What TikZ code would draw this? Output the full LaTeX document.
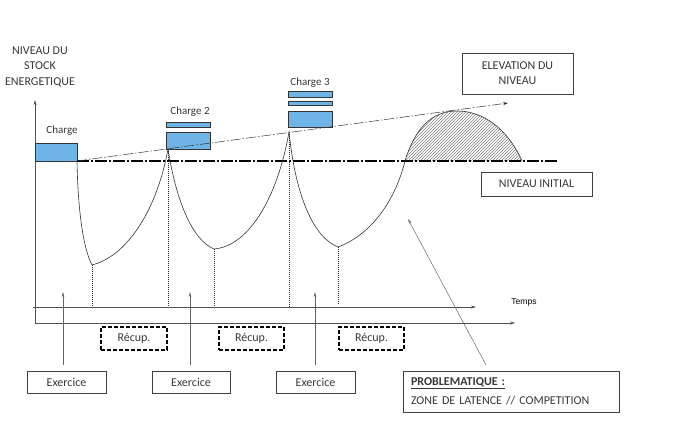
\documentclass[tikz,border=0pt]{standalone}
\usepackage{fontspec}
\setmainfont{Carlito}
\newfontfamily\arialf{Liberation Sans}
\usetikzlibrary{patterns,arrows.meta}
\definecolor{chargeblue}{RGB}{110,180,230}
\definecolor{axisgray}{RGB}{80,80,80}
\definecolor{txt}{RGB}{55,55,55}
\begin{document}
\begin{tikzpicture}[x=1pt,y=-1pt,
  lbl/.style={font=\fontsize{11}{13}\selectfont, inner sep=0pt, text=txt},
  boxed/.style={draw=black!75, line width=0.8pt, font=\fontsize{12}{14}\selectfont, text=txt, inner sep=0pt, align=center},
  recup/.style={draw=black, line width=1.3pt, dash pattern=on 4pt off 2pt, font=\fontsize{12}{14}\selectfont, text=txt, inner sep=0pt, minimum height=23pt},
  axisline/.style={draw=axisgray, line width=0.9pt, -{Stealth[length=5pt,width=3pt]}},
  chargebox/.style={draw=black!80, line width=0.6pt, fill=chargeblue},
  baseline/.style={draw=black, line width=1.6pt, dash pattern=on 12pt off 2pt on 2pt off 2pt},
  riseline/.style={draw=black!80, line width=0.5pt, dash pattern=on 10pt off 2pt on 1.5pt off 2pt, -{Stealth[length=5pt,width=3pt]}},
  curve/.style={draw=black!80, line width=0.6pt},
  dotv/.style={draw=black!85, line width=0.7pt, dash pattern=on 1pt off 1pt},
  pointer/.style={draw=gray!80!black, line width=0.5pt, -{Stealth[length=5pt,width=2.5pt]}}
]
\useasboundingbox (0,0) rectangle (685,446);

% axes
\coordinate (ybot) at (35,323);
\coordinate (ytop) at (35,100);
\coordinate (xend) at (515,323);
\coordinate (tstart) at (33,307);
\coordinate (tend) at (476,307);
\draw[axisline] (ybot) -- (ytop);
\draw[axisline] (ybot) -- (xend);
\draw[axisline] (tstart) -- (tend);
\node[inner sep=0pt, text=txt, align=center, font=\fontsize{12}{15.5}\selectfont] (ylab) at (40,66.5) {NIVEAU DU\\STOCK\\ENERGETIQUE};
\node[inner sep=0pt, font=\arialf\fontsize{8.5}{10}\selectfont] (temps) at (524,302) {Temps};

% charge boxes
\draw[chargebox] (35,143) rectangle (77,161);
\node[lbl] (c1) at (62,131) {Charge};
\draw[chargebox] (166,122) rectangle (210,127);
\draw[chargebox] (166,132) rectangle (210,149);
\node[lbl] (c2) at (190,112) {Charge 2};
\draw[chargebox] (288,91) rectangle (332,97);
\draw[chargebox] (288,101) rectangle (332,105);
\draw[chargebox] (288,111) rectangle (332,127);
\node[lbl] (c3) at (310,83) {Charge 3};

% key points
\coordinate (s0) at (77,161);
\coordinate (m1) at (92,265);
\coordinate (p1) at (168,149);
\coordinate (m2) at (214,249);
\coordinate (p2) at (289,132);
\coordinate (m3) at (338,247);
\coordinate (x3) at (405,161);
\coordinate (h) at (457,111);
\coordinate (e) at (522,161);
\coordinate (riseend) at (508,103);
\coordinate (baseend) at (558,161);

% hatched hump
\fill[pattern=north east lines, pattern color=gray] (x3) .. controls (415,128) and (432,111) .. (h) .. controls (490,111) and (512,138) .. (e) -- cycle;

% baseline and rising line
\draw[baseline] (s0) -- (baseend);
\draw[riseline] (s0) -- (riseend);

% curve
\draw[curve] (s0) .. controls (78,215) and (84,250) .. (m1)
  .. controls (130,255) and (158,205) .. (p1)
  .. controls (176,200) and (192,240) .. (m2)
  .. controls (250,246) and (278,195) .. (p2)
  .. controls (296,200) and (315,238) .. (m3)
  .. controls (368,236) and (394,205) .. (x3)
  .. controls (415,128) and (432,111) .. (h)
  .. controls (490,111) and (512,138) .. (e);

% dotted verticals
\coordinate (d1) at (92,307);
\coordinate (d2) at (168,307);
\coordinate (d3) at (214,307);
\coordinate (d4) at (289,307);
\coordinate (d5) at (338,305);
\draw[dotv] (m1) -- (d1);
\draw[dotv] (p1) -- (d2);
\draw[dotv] (m2) -- (d3);
\draw[dotv] (p2) -- (d4);
\draw[dotv] (m3) -- (d5);

% exercise boxes and arrows
\node[boxed, minimum width=79pt, minimum height=22pt] (ex1) at (66.5,382) {Exercice};
\node[boxed, minimum width=78pt, minimum height=22pt] (ex2) at (191,382) {Exercice};
\node[boxed, minimum width=79pt, minimum height=22pt] (ex3) at (315.5,382) {Exercice};
\coordinate (t1) at (63,292);
\coordinate (t2) at (190,292);
\coordinate (t3) at (315,292);
\draw[pointer] (63,365) -- (t1);
\draw[pointer] (190,365) -- (t2);
\draw[pointer] (315,365) -- (t3);

% recovery boxes
\node[recup, minimum width=66pt] (r1) at (134,338.5) {Récup.};
\node[recup, minimum width=65pt] (r2) at (251.5,338.5) {Récup.};
\node[recup, minimum width=65pt] (r3) at (371.5,338.5) {Récup.};

% right boxes
\node[boxed, minimum width=111pt, minimum height=41pt, font=\fontsize{12}{15}\selectfont] (elev) at (517.5,73.5) {ELEVATION DU\\NIVEAU};
\node[boxed, minimum width=111pt, minimum height=24pt] (init) at (536.5,184) {NIVEAU INITIAL};
\node[boxed, minimum width=216pt, minimum height=41pt, text width=200pt, align=left, font=\fontsize{12}{19}\selectfont] (prob) at (511,391.5) {\underline{\textbf{PROBLEMATIQUE :}}\\ZONE DE LATENCE // COMPETITION};
\coordinate (ptip) at (408,219);
\draw[pointer] (486,365) -- (ptip);
\end{tikzpicture}
\end{document}
